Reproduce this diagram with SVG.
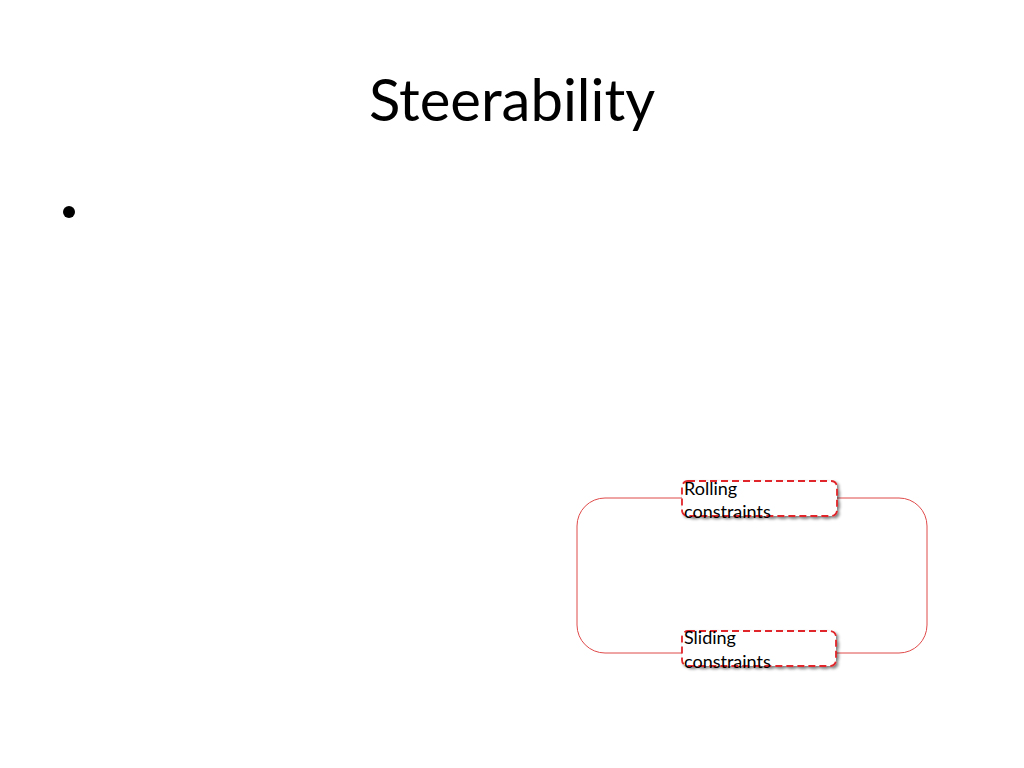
<svg xmlns="http://www.w3.org/2000/svg" width="1024" height="768" viewBox="0 0 1024 768">
<defs>
<filter id="sh" x="-10%" y="-20%" width="130%" height="160%">
<feGaussianBlur in="SourceAlpha" stdDeviation="1.5"/>
<feOffset dx="2" dy="2" result="b"/>
<feComponentTransfer><feFuncA type="linear" slope="0.5"/></feComponentTransfer>
<feMerge><feMergeNode/><feMergeNode in="SourceGraphic"/></feMerge>
</filter>
</defs>
<style>
.t{font-family:Lato,"Liberation Sans",sans-serif;fill:#000}
.box{fill:#fff;stroke:#e0262b;stroke-width:1.8;stroke-dasharray:7 4}
.loop{fill:none;stroke:#e04a4a;stroke-width:1}
.lbl{font-family:Lato,"Liberation Sans",sans-serif;font-size:18px;fill:#000}
</style>
<rect width="1024" height="768" fill="#fff"/>
<text class="t" x="512" y="121" font-size="58" text-anchor="middle">Steerability</text>
<circle cx="69" cy="212" r="6" fill="#000"/>
<g id="connectors">
<rect class="loop" x="577" y="498" width="350" height="155" rx="28" ry="28"/>
</g>
<g id="rolling">
<rect class="box" x="682" y="481" width="155" height="35" rx="6" filter="url(#sh)"/>
<text class="lbl" x="684" y="495">Rolling</text>
<text class="lbl" x="684" y="518">constraints</text>
</g>
<g id="sliding">
<rect class="box" x="682" y="631" width="154" height="35" rx="6" filter="url(#sh)"/>
<text class="lbl" x="684" y="644">Sliding</text>
<text class="lbl" x="684" y="668">constraints</text>
</g>
</svg>
